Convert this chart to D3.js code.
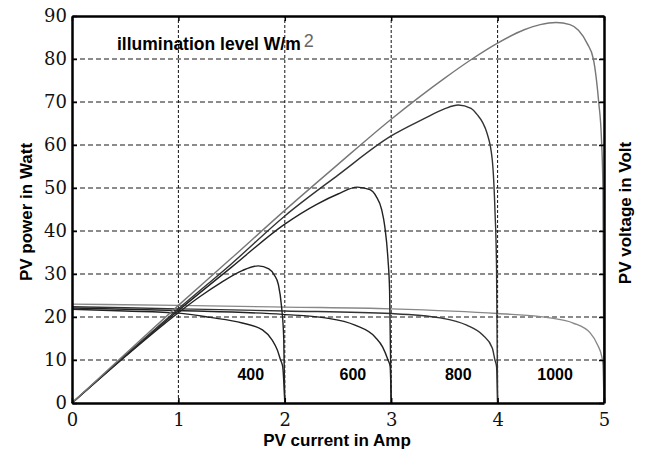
<!DOCTYPE html>
<html>
<head>
<meta charset="utf-8">
<script src="https://cdn.jsdelivr.net/npm/d3@7"></script>
<style>
body { margin: 0; background: #fff; }
</style>
</head>
<body>
<svg id="grafico" width="646" height="449"></svg>
<script>

const xTicks = [0, 1, 2, 3, 4, 5]
const yTicks = [0, 10, 20, 30, 40, 50, 60, 70, 80, 90]
const gridX = [1, 2, 3, 4]
const gridY = [10, 20, 30, 40, 50, 60, 70, 80]

const niveles = ['400', '600', '800', '1000']
const nivelX = [1.68, 2.64, 3.63, 4.54]
const nivelY = 5.3

// PV voltage (V) vs current (A)
const iv400 = [0, 0.5, 1, 1.3, 1.6, 1.79, 1.88, 1.93, 1.96, 1.98, 2.0]
const v400  = [21.8, 21.4, 20.9, 19.9, 18.6, 17.0, 14.7, 12.3, 10.0, 8.5, 0]
const iv600 = [0, 1, 1.98, 2.38, 2.66, 2.85, 2.92, 2.97, 2.99, 3.0]
const v600  = [22.1, 21.5, 20.6, 19.8, 18.1, 15.3, 13.0, 10.0, 8.5, 0]
const iv800 = [0, 1, 2, 3, 3.46, 3.71, 3.86, 3.95, 3.975, 3.99, 4.0]
const v800  = [22.4, 21.9, 21.4, 20.8, 19.8, 18.1, 15.8, 12.8, 10.0, 8.5, 0]
const iv1000 = [0, 1, 2, 3, 4, 4.49, 4.71, 4.87, 4.94, 4.98, 4.99, 5.0]
const v1000  = [23.0, 22.7, 22.3, 21.9, 20.8, 19.8, 18.6, 16.3, 13.5, 10.7, 9.0, 0]

// PV power (W) vs current (A)
const ip400 = [0, 0.5, 1, 1.2, 1.4, 1.6, 1.75, 1.85, 1.9, 1.94, 1.97, 1.99, 2.0]
const p400  = [0, 10.8, 21.0, 24.7, 28.0, 30.8, 31.9, 31.2, 29.8, 27.5, 22.3, 15, 0]
const ip600 = [0, 0.5, 1, 1.5, 2, 2.3, 2.5, 2.68, 2.8, 2.86, 2.91, 2.94, 2.97, 2.985, 3.0]
const p600  = [0, 10.9, 21.5, 31.6, 41.6, 46.2, 48.6, 50.2, 49.6, 48.0, 45.0, 41.0, 33.3, 26, 0]
const ip800 = [0, 0.5, 1, 1.5, 2, 2.5, 3, 3.3, 3.5, 3.63, 3.75, 3.81, 3.86, 3.9, 3.95, 3.975, 3.99, 4.0]
const p800  = [0, 11.1, 21.9, 32.4, 43.5, 53.0, 62.1, 66.0, 68.4, 69.3, 68.5, 67.0, 65.2, 62.8, 56.5, 44.9, 31.6, 0]
const ip1000 = [0, 0.5, 1, 1.5, 2, 2.5, 3, 3.5, 3.76, 4, 4.25, 4.4, 4.55, 4.68, 4.76, 4.84, 4.9, 4.95, 4.975, 4.99, 5.0]
const p1000  = [0, 11.4, 22.7, 33.7, 44.8, 55.5, 66.0, 75.5, 80.0, 83.7, 86.8, 88.0, 88.5, 88.0, 86.7, 83.7, 80.0, 70.0, 62.0, 50.0, 0]

const curvas = [
    { i: iv400, y: v400, color: '#222' },
    { i: iv600, y: v600, color: '#222' },
    { i: iv800, y: v800, color: '#333' },
    { i: iv1000, y: v1000, color: '#888' },
    { i: ip400, y: p400, color: '#222' },
    { i: ip600, y: p600, color: '#222' },
    { i: ip800, y: p800, color: '#333' },
    { i: ip1000, y: p1000, color: '#777' }
]

const margin = { top: 16, right: 42, bottom: 46, left: 72 }
const width = 646, height = 449

const x = d3.scaleLinear().domain([0, 5]).range([margin.left, width - margin.right])
const y = d3.scaleLinear().domain([0, 90]).range([height - margin.bottom, margin.top])

const canvas = d3.select('#grafico')

// grid
canvas.append('g').selectAll('line').data(gridY)
    .enter().append('line')
    .attr('x1', x(0)).attr('x2', x(5))
    .attr('y1', d => y(d)).attr('y2', d => y(d))
    .attr('stroke', '#666').attr('stroke-width', 1.4)
    .attr('stroke-dasharray', '5,3')

canvas.append('g').selectAll('line').data(gridX)
    .enter().append('line')
    .attr('x1', d => x(d)).attr('x2', d => x(d))
    .attr('y1', y(0)).attr('y2', y(90))
    .attr('stroke', '#111').attr('stroke-width', 1)
    .attr('stroke-dasharray', '3,2')

// curves
const linea = d3.line().x(d => x(d[0])).y(d => y(d[1])).curve(d3.curveMonotoneX)

canvas.append('g').selectAll('path').data(curvas)
    .enter().append('path')
    .attr('d', c => linea(c.i.map((v, k) => [v, c.y[k]])))
    .attr('fill', 'none')
    .attr('stroke', c => c.color)
    .attr('stroke-width', 1.4)
    .attr('stroke-linejoin', 'round')

// axes
const estiloEje = g => {
    g.select('.domain').attr('stroke', '#000').attr('stroke-width', 2.5)
    g.selectAll('.tick line').attr('stroke', '#000').attr('stroke-width', 1.5)
    g.selectAll('text').attr('font-family', '"DejaVu Serif", serif').attr('font-size', 18).attr('fill', '#111')
}

canvas.append('g')
    .attr('transform', `translate(0,${y(0)})`)
    .call(d3.axisBottom(x).tickValues(xTicks).tickFormat(d3.format('d')).tickSizeInner(-5).tickSizeOuter(0).tickPadding(10))
    .call(estiloEje)

canvas.append('g')
    .attr('transform', `translate(${x(0)},0)`)
    .call(d3.axisLeft(y).tickValues(yTicks).tickFormat(d3.format('d')).tickSizeInner(-5).tickSizeOuter(0).tickPadding(5))
    .call(estiloEje)

canvas.append('g')
    .attr('transform', `translate(0,${y(90)})`)
    .call(d3.axisTop(x).tickValues(xTicks).tickFormat('').tickSizeInner(-5).tickSizeOuter(0))
    .call(estiloEje)

canvas.append('g')
    .attr('transform', `translate(${x(5)},0)`)
    .call(d3.axisRight(y).tickValues(yTicks).tickFormat('').tickSizeInner(-5).tickSizeOuter(0))
    .call(estiloEje)

// titles
canvas.append('text')
    .attr('x', 337).attr('y', 446)
    .attr('text-anchor', 'middle')
    .attr('font-family', 'Arial, "Liberation Sans", sans-serif')
    .attr('font-weight', 'bold').attr('font-size', 17)
    .text('PV current in Amp')

canvas.append('text')
    .attr('transform', 'translate(32,212) rotate(-90)')
    .attr('text-anchor', 'middle')
    .attr('font-family', 'Arial, "Liberation Sans", sans-serif')
    .attr('font-weight', 'bold').attr('font-size', 17)
    .text('PV power in Watt')

canvas.append('text')
    .attr('transform', 'translate(631,213) rotate(-90)')
    .attr('text-anchor', 'middle')
    .attr('font-family', 'Arial, "Liberation Sans", sans-serif')
    .attr('font-weight', 'bold').attr('font-size', 17)
    .text('PV voltage in Volt')

const titulo = canvas.append('text')
    .attr('x', 117).attr('y', 50)
    .attr('font-family', 'Arial, "Liberation Sans", sans-serif')
    .attr('font-size', 17.5)

titulo.append('tspan').attr('font-weight', 'bold').text('illumination level W/m')
titulo.append('tspan').attr('dx', 3).attr('dy', -3).attr('fill', '#666').attr('font-size', 18).text('2')

canvas.append('g').selectAll('text').data(niveles)
    .enter().append('text')
    .attr('x', (d, k) => x(nivelX[k]))
    .attr('y', y(nivelY))
    .attr('text-anchor', 'middle')
    .attr('font-family', 'Arial, "Liberation Sans", sans-serif')
    .attr('font-weight', 'bold').attr('font-size', 16)
    .text(d => d)

</script>
</body>
</html>
